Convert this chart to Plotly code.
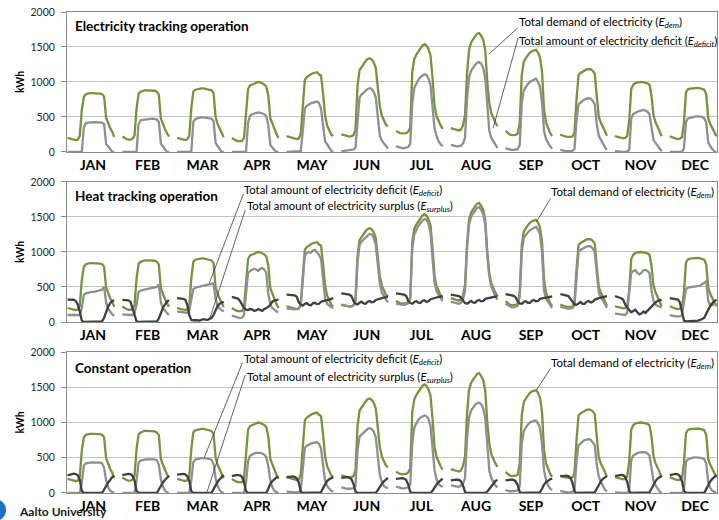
import plotly.graph_objects as go

# ---------------------------------------------------------------- data
months = ["JAN", "FEB", "MAR", "APR", "MAY", "JUN",
          "JUL", "AUG", "SEP", "OCT", "NOV", "DEC"]
y_ticks = [0, 500, 1000, 1500, 2000]

# hourly electricity demand (kWh), one 24-hour profile per month
demand = [
    [200, 190, 180, 175, 170, 175, 230, 600, 790, 825, 835, 840, 840, 840, 840, 840, 835, 825, 790, 490, 410, 340, 290, 215],
    [220, 200, 185, 175, 175, 190, 235, 620, 830, 860, 875, 880, 880, 880, 880, 880, 875, 860, 820, 480, 390, 330, 270, 220],
    [200, 190, 180, 175, 170, 180, 230, 620, 860, 890, 900, 905, 910, 910, 905, 900, 895, 880, 840, 500, 400, 330, 270, 210],
    [200, 180, 165, 155, 150, 155, 200, 560, 900, 950, 965, 975, 990, 1000, 995, 985, 965, 935, 800, 480, 400, 320, 260, 200],
    [225, 215, 205, 195, 190, 185, 190, 260, 650, 1030, 1070, 1095, 1110, 1125, 1135, 1140, 1110, 1090, 830, 520, 380, 300, 250, 225],
    [250, 240, 230, 225, 220, 225, 240, 320, 950, 1170, 1220, 1260, 1300, 1330, 1340, 1320, 1280, 1200, 900, 650, 520, 440, 390, 365],
    [300, 280, 270, 265, 265, 270, 290, 350, 1150, 1330, 1390, 1440, 1490, 1520, 1540, 1520, 1470, 1380, 1050, 650, 510, 440, 380, 330],
    [340, 330, 320, 310, 305, 320, 380, 520, 1120, 1460, 1560, 1610, 1650, 1690, 1700, 1660, 1600, 1450, 1000, 700, 550, 480, 420, 370],
    [300, 270, 250, 240, 240, 245, 260, 420, 1100, 1290, 1340, 1380, 1420, 1440, 1455, 1460, 1420, 1350, 1150, 600, 420, 330, 270, 230],
    [250, 235, 225, 220, 215, 215, 220, 280, 750, 1100, 1130, 1150, 1170, 1180, 1185, 1180, 1160, 1120, 800, 500, 420, 370, 300, 230],
    [225, 215, 205, 200, 195, 200, 230, 450, 900, 960, 985, 995, 1000, 1000, 995, 990, 980, 960, 800, 520, 420, 360, 280, 225],
    [225, 210, 200, 190, 185, 190, 210, 420, 850, 895, 905, 910, 915, 915, 915, 910, 905, 890, 820, 480, 400, 340, 280, 225],
]

# electricity tracking operation: deficit
deficit_elec = [
    [0, 0, 0, 0, 0, 0, 0, 0, 350, 410, 420, 425, 425, 425, 425, 425, 425, 420, 400, 110, 85, 40, 0, 0],
    [0, 0, 0, 0, 0, 0, 0, 0, 400, 450, 460, 465, 470, 470, 475, 475, 470, 465, 430, 120, 80, 30, 0, 0],
    [0, 0, 0, 0, 0, 0, 0, 0, 430, 470, 480, 490, 495, 495, 490, 490, 485, 475, 440, 130, 85, 35, 0, 0],
    [0, 0, 0, 0, 0, 0, 0, 0, 420, 520, 540, 550, 560, 565, 560, 555, 540, 510, 380, 100, 60, 30, 0, 0],
    [0, 0, 0, 0, 0, 0, 0, 10, 300, 620, 660, 680, 695, 705, 715, 720, 700, 620, 380, 150, 110, 60, 20, 0],
    [10, 15, 20, 25, 30, 30, 35, 60, 500, 780, 820, 850, 880, 900, 910, 900, 860, 780, 500, 230, 160, 120, 80, 50],
    [80, 70, 60, 55, 55, 60, 70, 120, 700, 920, 980, 1030, 1070, 1095, 1110, 1100, 1050, 950, 600, 330, 230, 150, 110, 85],
    [100, 90, 85, 80, 80, 90, 120, 200, 750, 1060, 1160, 1210, 1245, 1275, 1285, 1260, 1200, 1050, 600, 300, 200, 150, 100, 60],
    [50, 40, 30, 30, 30, 35, 40, 100, 700, 880, 930, 970, 1000, 1020, 1040, 1050, 1000, 930, 700, 300, 180, 120, 80, 50],
    [30, 20, 15, 10, 10, 10, 15, 40, 450, 680, 710, 730, 750, 765, 770, 760, 730, 680, 400, 230, 170, 130, 70, 30],
    [10, 5, 0, 0, 0, 0, 5, 30, 480, 540, 560, 575, 585, 595, 600, 590, 575, 540, 350, 170, 130, 90, 40, 10],
    [0, 0, 0, 0, 0, 0, 0, 50, 430, 480, 490, 500, 505, 510, 510, 505, 500, 480, 420, 130, 80, 40, 10, 0],
]

# heat tracking operation: deficit and surplus
deficit_heat = [
    [100, 100, 95, 90, 90, 90, 100, 200, 390, 410, 420, 425, 430, 430, 435, 440, 445, 460, 500, 280, 190, 140, 110, 90],
    [110, 105, 100, 100, 100, 100, 120, 250, 430, 450, 460, 465, 470, 475, 480, 480, 485, 500, 540, 280, 200, 160, 130, 100],
    [150, 145, 140, 130, 125, 130, 160, 300, 470, 490, 500, 510, 515, 520, 525, 530, 535, 545, 550, 330, 230, 190, 170, 150],
    [90, 80, 70, 60, 55, 60, 100, 400, 700, 730, 740, 760, 750, 730, 760, 770, 750, 700, 400, 250, 200, 170, 150, 140],
    [195, 190, 185, 180, 180, 185, 190, 240, 600, 950, 980, 1000, 990, 1020, 1030, 1000, 960, 900, 600, 330, 260, 230, 210, 200],
    [240, 235, 230, 225, 215, 220, 235, 300, 850, 1100, 1150, 1180, 1210, 1240, 1260, 1250, 1200, 1100, 800, 550, 420, 360, 320, 280],
    [260, 255, 250, 245, 245, 250, 270, 330, 1050, 1250, 1320, 1370, 1410, 1450, 1470, 1460, 1400, 1280, 900, 560, 440, 380, 340, 300],
    [290, 280, 270, 265, 260, 270, 320, 440, 1040, 1390, 1500, 1550, 1590, 1630, 1640, 1600, 1540, 1390, 950, 650, 500, 430, 370, 320],
    [260, 240, 220, 210, 210, 215, 230, 360, 1000, 1200, 1250, 1280, 1310, 1330, 1350, 1360, 1320, 1250, 1000, 450, 330, 280, 240, 200],
    [220, 210, 200, 195, 190, 195, 200, 240, 650, 1000, 1030, 1050, 1070, 1080, 1085, 1080, 1050, 1000, 700, 420, 350, 310, 260, 200],
    [120, 115, 110, 105, 100, 100, 130, 400, 700, 730, 740, 700, 680, 700, 740, 745, 730, 700, 450, 300, 250, 230, 220, 210],
    [100, 90, 85, 80, 80, 80, 100, 300, 470, 490, 495, 500, 500, 505, 510, 520, 540, 560, 580, 300, 230, 240, 260, 250],
]
surplus_heat = [
    [320, 320, 320, 318, 300, 250, 150, 20, 0, 0, 5, 5, 5, 5, 5, 5, 5, 10, 60, 150, 220, 270, 300, 310],
    [315, 315, 315, 310, 290, 200, 80, 10, 3, 3, 3, 3, 3, 3, 3, 3, 3, 10, 50, 130, 200, 250, 290, 310],
    [340, 340, 335, 330, 320, 250, 100, 30, 25, 30, 25, 20, 30, 40, 35, 30, 45, 60, 100, 180, 230, 260, 280, 290],
    [360, 355, 345, 335, 300, 250, 200, 175, 170, 185, 180, 160, 165, 185, 175, 160, 185, 200, 215, 250, 290, 310, 315, 320],
    [390, 390, 388, 385, 380, 360, 285, 250, 235, 260, 270, 245, 240, 270, 275, 255, 260, 290, 295, 300, 310, 320, 330, 340],
    [410, 405, 400, 395, 390, 370, 300, 260, 250, 275, 290, 265, 260, 290, 300, 280, 285, 315, 320, 330, 340, 350, 355, 360],
    [410, 405, 400, 395, 390, 370, 305, 270, 260, 285, 300, 275, 270, 300, 310, 290, 295, 325, 330, 340, 350, 360, 365, 370],
    [390, 385, 380, 375, 370, 350, 300, 270, 260, 285, 300, 280, 275, 305, 315, 295, 300, 330, 335, 350, 355, 360, 365, 370],
    [400, 395, 390, 385, 375, 350, 295, 265, 260, 285, 300, 275, 275, 305, 315, 295, 300, 330, 335, 340, 350, 355, 360, 365],
    [400, 395, 390, 380, 370, 330, 280, 250, 245, 270, 285, 260, 260, 290, 300, 280, 290, 320, 325, 340, 350, 355, 360, 370],
    [370, 365, 350, 340, 320, 250, 200, 170, 140, 160, 175, 140, 110, 120, 150, 130, 160, 200, 220, 260, 280, 300, 310, 320],
    [340, 335, 330, 330, 320, 280, 150, 20, 10, 10, 15, 10, 10, 15, 20, 30, 40, 60, 120, 180, 230, 270, 300, 320],
]

# constant operation: deficit and surplus
deficit_const = [
    [0, 0, 0, 0, 0, 0, 0, 150, 390, 420, 428, 432, 433, 433, 433, 432, 430, 420, 360, 180, 80, 30, 10, 0],
    [0, 0, 0, 0, 0, 0, 0, 170, 430, 460, 470, 475, 478, 480, 480, 478, 475, 465, 400, 200, 90, 35, 10, 0],
    [0, 0, 0, 0, 0, 0, 0, 180, 440, 475, 485, 490, 495, 495, 495, 490, 485, 470, 410, 210, 100, 40, 10, 0],
    [0, 0, 0, 0, 0, 0, 0, 150, 450, 530, 550, 560, 570, 575, 570, 560, 545, 510, 380, 170, 80, 30, 10, 0],
    [20, 15, 10, 10, 10, 10, 10, 40, 400, 640, 670, 690, 700, 710, 715, 720, 700, 630, 400, 170, 100, 60, 30, 20],
    [80, 70, 60, 60, 60, 60, 70, 100, 600, 800, 830, 860, 890, 910, 920, 910, 870, 790, 520, 260, 150, 100, 80, 70],
    [90, 80, 70, 65, 65, 70, 80, 120, 700, 930, 990, 1040, 1070, 1090, 1100, 1090, 1050, 950, 620, 320, 190, 130, 100, 90],
    [110, 100, 95, 90, 90, 100, 130, 210, 760, 1070, 1170, 1220, 1250, 1275, 1280, 1260, 1200, 1060, 620, 320, 210, 150, 110, 80],
    [40, 30, 25, 25, 25, 30, 35, 100, 700, 880, 930, 970, 1000, 1015, 1025, 1030, 990, 920, 700, 320, 180, 110, 60, 40],
    [30, 20, 15, 10, 10, 10, 15, 40, 450, 680, 710, 730, 750, 760, 765, 755, 725, 680, 400, 230, 160, 100, 50, 20],
    [10, 5, 0, 0, 0, 0, 5, 30, 470, 530, 550, 565, 575, 580, 580, 575, 560, 530, 350, 170, 110, 60, 20, 5],
    [0, 0, 0, 0, 0, 0, 0, 40, 440, 480, 490, 500, 505, 505, 505, 500, 495, 480, 420, 150, 70, 30, 10, 0],
]
surplus_const = [
    [250, 260, 270, 275, 270, 250, 190, 30, 0, 0, 0, 0, 0, 0, 0, 0, 0, 0, 50, 110, 150, 185, 225, 245],
    [255, 262, 270, 272, 268, 245, 180, 30, 0, 0, 0, 0, 0, 0, 0, 0, 0, 0, 50, 110, 150, 185, 220, 245],
    [260, 265, 270, 272, 265, 240, 170, 25, 0, 0, 0, 0, 0, 0, 0, 0, 0, 0, 55, 120, 160, 195, 230, 255],
    [240, 250, 255, 255, 250, 230, 160, 25, 0, 0, 0, 0, 0, 0, 0, 0, 0, 0, 60, 130, 170, 200, 220, 235],
    [225, 230, 235, 235, 230, 210, 150, 20, 0, 0, 0, 0, 0, 0, 0, 0, 0, 10, 70, 130, 170, 195, 215, 225],
    [215, 220, 225, 225, 220, 195, 130, 20, 0, 0, 0, 0, 0, 0, 0, 0, 0, 0, 40, 90, 130, 165, 195, 215],
    [200, 205, 210, 210, 205, 185, 120, 15, 0, 0, 0, 0, 0, 0, 0, 0, 0, 0, 30, 80, 120, 155, 185, 205],
    [180, 185, 190, 190, 185, 165, 110, 15, 0, 0, 0, 0, 0, 0, 0, 0, 0, 0, 20, 60, 100, 140, 170, 185],
    [180, 185, 190, 190, 185, 165, 110, 15, 0, 0, 0, 0, 0, 0, 0, 0, 0, 10, 60, 120, 155, 180, 195, 205],
    [235, 240, 245, 245, 240, 215, 150, 25, 0, 0, 0, 0, 0, 0, 0, 0, 0, 10, 60, 120, 165, 200, 225, 240],
    [240, 248, 255, 258, 255, 230, 160, 25, 0, 0, 0, 0, 0, 0, 0, 0, 0, 10, 60, 125, 170, 205, 230, 245],
    [255, 262, 268, 270, 265, 240, 170, 30, 0, 0, 0, 0, 0, 0, 0, 0, 0, 0, 55, 120, 165, 200, 230, 255],
]

# ---------------------------------------------------------------- styling
FONT = "Lato, 'Open Sans', 'DejaVu Sans', sans-serif"
GREEN = "#77933c"
GRAY = "#8f8f8f"
DARK = "#404040"
GRID = "#c3c3c3"
AXIS = "#8c8c8c"
LW = 2.3

HOURS = 24
SLOT = 27                      # hours + gap per month on the shared x scale
X_MAX = SLOT * 11 + HOURS - 1  # last hour of December


def hourly_xy(profile):
    """Flatten the month-by-month 24 h profiles into one broken line."""
    xs, ys = [], []
    for m, day in enumerate(profile):
        xs.extend(m * SLOT + h for h in range(HOURS))
        ys.extend(day)
        xs.append(None)
        ys.append(None)
    return xs, ys


fig = go.Figure()

panels = [
    ("x", "y", [(demand, GREEN), (deficit_elec, GRAY)]),
    ("x2", "y2", [(demand, GREEN), (deficit_heat, GRAY), (surplus_heat, DARK)]),
    ("x3", "y3", [(demand, GREEN), (deficit_const, GRAY), (surplus_const, DARK)]),
]
for xa, ya, series in panels:
    for values, color in series:
        xs, ys = hourly_xy(values)
        fig.add_trace(go.Scatter(
            x=xs, y=ys, xaxis=xa, yaxis=ya, mode="lines",
            line=dict(color=color, width=LW), connectgaps=False,
            showlegend=False, hoverinfo="skip"))

month_pos = [m * SLOT + 12.5 for m in range(len(months))]

xaxis_style = dict(
    range=[-0.3, X_MAX + 0.3], showgrid=False, zeroline=False,
    showline=True, linecolor=AXIS, linewidth=1, mirror=True,
    tickmode="array", tickvals=month_pos, ticktext=months, ticks="",
    tickfont=dict(family=FONT, size=14, color="#000000", weight="bold"),
    fixedrange=True,
)
yaxis_style = dict(
    range=[0, 2000], tickvals=y_ticks, showgrid=True, gridcolor=GRID,
    gridwidth=1, zeroline=False, showline=True, linecolor=AXIS,
    linewidth=1, mirror=True, ticks="outside", ticklen=5, tickcolor=AXIS,
    ticklabelstandoff=4,
    tickfont=dict(family=FONT, size=10.5, color="#262626"),
    fixedrange=True,
)

fig.update_layout(
    width=719, height=520,
    margin=dict(l=67, r=2, t=12, b=27),
    paper_bgcolor="white", plot_bgcolor="white",
    font=dict(family=FONT, color="#000000"),
    xaxis=dict(xaxis_style, anchor="y", domain=[0, 1]),
    xaxis2=dict(xaxis_style, anchor="y2", domain=[0, 1]),
    xaxis3=dict(xaxis_style, anchor="y3", domain=[0, 1]),
    yaxis=dict(yaxis_style, anchor="x", domain=[0.709, 1.0]),
    yaxis2=dict(yaxis_style, anchor="x2", domain=[0.3555, 0.6466]),
    yaxis3=dict(yaxis_style, anchor="x3", domain=[0.0, 0.2931]),
)

E_DEM = "(<i>E</i><sub><i>dem</i></sub>)"
E_DEF = "(<i>E</i><sub><i>deficit</i></sub>)"
E_SUR = "(<i>E</i><sub><i>surplus</i></sub>)"

annotations = []
shapes = []


def label(xa, ya, x, y, text, size=11.3, bold=False):
    annotations.append(dict(
        xref=xa, yref=ya, x=x, y=y, text=text, showarrow=False,
        xanchor="left", yanchor="middle", borderpad=0,
        font=dict(family=FONT, size=size, color="#000000",
                  weight="bold" if bold else "normal")))


def leader(xa, ya, x0, y0, x1, y1):
    shapes.append(dict(type="line", xref=xa, yref=ya, x0=x0, y0=y0,
                       x1=x1, y1=y1, line=dict(color="#3a3a3a", width=0.8)))


# panel titles
label("x", "y", 3, 1805, "Electricity tracking operation", size=13.5, bold=True)
label("x2", "y2", 3, 1800, "Heat tracking operation", size=13.5, bold=True)
label("x3", "y3", 3, 1775, "Constant operation", size=13.5, bold=True)

# electricity tracking callouts
label("x", "y", 222, 1850, "Total demand of electricity " + E_DEM, size=11.5)
leader("x", "y", 221.9, 1771, 207.9, 1400)
label("x", "y", 222, 1585, "Total amount of electricity deficit " + E_DEF)
leader("x", "y", 222.2, 1629, 209.9, 343)

# heat tracking callouts
label("x2", "y2", 86.5, 1885, "Total amount of electricity deficit " + E_DEF)
leader("x2", "y2", 86.7, 1829, 69.9, 557)
label("x2", "y2", 88, 1645, "Total amount of electricity surplus " + E_SUR)
leader("x2", "y2", 87.6, 1600, 69.9, 29)
label("x2", "y2", 237.8, 1843, "Total demand of electricity " + E_DEM, size=11.5)
leader("x2", "y2", 238.2, 1767, 231.3, 1433)

# constant operation callouts
label("x3", "y3", 86.5, 1887, "Total amount of electricity deficit " + E_DEF)
leader("x3", "y3", 86.2, 1844, 67.5, 511)
label("x3", "y3", 88, 1645, "Total amount of electricity surplus " + E_SUR)
leader("x3", "y3", 87.6, 1674, 68.8, 18)
label("x3", "y3", 237.8, 1844, "Total demand of electricity " + E_DEM, size=11.5)
leader("x3", "y3", 238.2, 1769, 231.3, 1461)

# y-axis titles
for yc in [(0.709 + 1.0) / 2, (0.3555 + 0.6466) / 2, 0.2931 / 2]:
    annotations.append(dict(
        xref="paper", yref="paper", x=-0.0723, y=yc, text="<b>kWh</b>",
        showarrow=False, textangle=-90, xanchor="center", yanchor="middle",
        font=dict(family=FONT, size=10.5, color="#000000")))

# university mark in the footer
shapes.append(dict(type="circle", xref="paper", yref="paper",
                   x0=-0.1277, x1=-0.0938, y0=-0.0582, y1=-0.0125,
                   fillcolor="#1e6fc8", line=dict(width=0), layer="above"))
annotations.append(dict(
    xref="paper", yref="paper", x=-0.0754, y=-0.0395,
    text="<b>Aalto University</b>", showarrow=False,
    xanchor="left", yanchor="middle", borderpad=0,
    font=dict(family=FONT, size=12, color="#1a1a1a")))

fig.update_layout(annotations=annotations, shapes=shapes)

fig.write_html("out.html")
